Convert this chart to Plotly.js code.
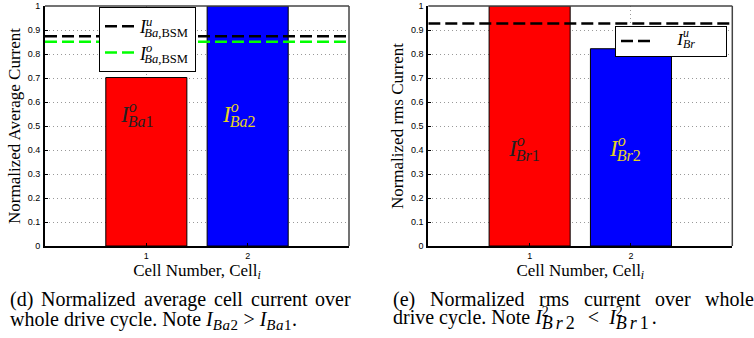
<!DOCTYPE html>
<html>
<head>
<meta charset="utf-8">
<script src="https://cdn.plot.ly/plotly-3.0.1.min.js"></script>
<style>html,body{margin:0;padding:0;background:#fff;}#chart{width:754px;height:338px;}</style>
</head>
<body>
<div id="chart"></div>
<script>
// ---- data ----
var cells = [1, 2];
var cellTickLabels = ['1', '2'];
var avgCurrent = [0.702, 1.0];          // normalized average cell current
var rmsCurrent = [1.0, 0.822];          // normalized rms current
var avgUpperBSM = 0.874;                // I^u_{Ba,BSM}
var avgLowerBSM = 0.851;                // I^o_{Ba,BSM}
var rmsUpper = 0.927;                   // I^u_{Br}
var lineX = [0, 3];
var barColors = ['#ff0000', '#0000ff'];
var yTicks = [0, 0.1, 0.2, 0.3, 0.4, 0.5, 0.6, 0.7, 0.8, 0.9, 1];
var yTickLabels = ['0', '0.1', '0.2', '0.3', '0.4', '0.5', '0.6', '0.7', '0.8', '0.9', '1'];
var captionLeft1 = ['(d)', 'Normalized', 'average', 'cell', 'current', 'over'];
var captionRight1 = ['(e)', 'Normalized', 'rms', 'current', 'over', 'whole'];

var serif = "'Liberation Serif'";
var sans = "'Liberation Sans'";
var NB = '\u00a0';
var EN = '\u2002';
function rep(s, n) { var o = ''; for (var i = 0; i < n; i++) o += s; return o; }

function stacked(base, sup, sub, pull) {
  return '<i>' + base + '</i><sup><span style="letter-spacing:-' + pull + 'px">' + sup + '</span></sup><sub>' + sub + '</sub>';
}
function bigsub(s, size, ls) { return '<span style="font-size:' + size + 'px;letter-spacing:' + ls + 'px">' + s + '</span>'; }

var traces = [
  {type: 'bar', x: cells, y: avgCurrent, width: 0.8, xaxis: 'x', yaxis: 'y',
   marker: {color: barColors, line: {color: '#000', width: 1}}, showlegend: false, hoverinfo: 'skip'},
  {type: 'scatter', mode: 'lines', x: lineX, y: [avgUpperBSM, avgUpperBSM], xaxis: 'x', yaxis: 'y',
   line: {color: '#000', width: 2.5, dash: '12px,5px'}, legend: 'legend',
   name: stacked('I', '<i>u</i>', '<i>Ba</i>,BSM', 8)},
  {type: 'scatter', mode: 'lines', x: lineX, y: [avgLowerBSM, avgLowerBSM], xaxis: 'x', yaxis: 'y',
   line: {color: '#00ff00', width: 2.5, dash: '12px,5px'}, legend: 'legend',
   name: stacked('I', '<i>o</i>', '<i>Ba</i>,BSM', 8)},
  {type: 'bar', x: cells, y: rmsCurrent, width: 0.8, xaxis: 'x2', yaxis: 'y2',
   marker: {color: barColors, line: {color: '#000', width: 1}}, showlegend: false, hoverinfo: 'skip'},
  {type: 'scatter', mode: 'lines', x: lineX, y: [rmsUpper, rmsUpper], xaxis: 'x2', yaxis: 'y2',
   line: {color: '#000', width: 2.5, dash: '12px,5px'}, legend: 'legend2',
   name: '<span style="font-size:17px">' + rep(NB, 5) + stacked('I', '<i>u</i>', '<i>Br</i>', 6) + rep(NB, 6) + '</span>'}
];

function xax(domain, anchor) {
  return {domain: domain, anchor: anchor, range: [0, 3], tickvals: cells, ticktext: cellTickLabels,
    showgrid: true, gridcolor: '#999', griddash: '1px,3px', gridwidth: 1, zeroline: false,
    showline: true, linecolor: '#000', linewidth: 2, ticks: 'inside', ticklen: 3, tickcolor: '#000',
    tickfont: {family: sans, size: 9, color: '#000'}, fixedrange: true,
    title: {text: 'Cell Number, Cell<sub><i>i</i></sub>', font: {family: serif, size: 17, color: '#000'}, standoff: 0}};
}
function yax(domain, anchor, title, standoff) {
  return {domain: domain, anchor: anchor, range: [0, 1], tickvals: yTicks, ticktext: yTickLabels,
    showgrid: true, gridcolor: '#999', griddash: '1px,3px', gridwidth: 1, zeroline: false,
    showline: true, linecolor: '#000', linewidth: 2, ticks: 'inside', ticklen: 3, tickcolor: '#000',
    tickfont: {family: sans, size: 9, color: '#000'}, fixedrange: true, ticklabelstandoff: 1,
    title: {text: title, font: {family: serif, size: 17, color: '#000'}, standoff: standoff}};
}

var yDom = [1 - 246 / 338, 1 - 6 / 338];
var annotations = [];
// bar labels
annotations.push({xref: 'x', yref: 'y', x: 1, y: 0.54, showarrow: false, xshift: -9,
  text: stacked('I', '<i>o</i>', '<i>Ba</i>1', 9), font: {family: serif, size: 23, color: '#222'}});
annotations.push({xref: 'x', yref: 'y', x: 2, y: 0.54, showarrow: false, xshift: -9,
  text: stacked('I', '<i>o</i>', '<i>Ba</i>2', 9), font: {family: serif, size: 23, color: '#e6d21e'}});
annotations.push({xref: 'x2', yref: 'y2', x: 1, y: 0.40, showarrow: false, xshift: -6,
  text: stacked('I', '<i>o</i>', '<i>Br</i>1', 9), font: {family: serif, size: 23, color: '#222'}});
annotations.push({xref: 'x2', yref: 'y2', x: 2, y: 0.40, showarrow: false, xshift: -6,
  text: stacked('I', '<i>o</i>', '<i>Br</i>2', 9), font: {family: serif, size: 23, color: '#e6d21e'}});

// captions (first lines justified between column edges)
var capSize = 20;
var capFont = {family: serif, size: capSize, color: '#000'};
var ctx = document.createElement('canvas').getContext('2d');
ctx.font = capSize + "px 'Liberation Serif'";
function justify(words, x0, x1) {
  var widths = words.map(function (w) { return ctx.measureText(w).width; });
  var total = widths.reduce(function (a, b) { return a + b; }, 0);
  var gap = (x1 - x0 - total) / (words.length - 1);
  var x = x0;
  words.forEach(function (w, i) {
    annotations.push({xref: 'paper', yref: 'paper', x: x / 754, y: 1 - 299 / 338, xanchor: 'left', yanchor: 'middle',
      showarrow: false, text: w, font: capFont, borderpad: 0});
    x += widths[i] + gap;
  });
}
justify(captionLeft1, 9, 350);
justify(captionRight1, 392, 753);

annotations.push({xref: 'paper', yref: 'paper', x: 9 / 754, y: 1 - 307 / 338, xanchor: 'left', yanchor: 'top',
  showarrow: false, font: capFont, borderpad: 0,
  text: 'whole drive cycle. Note' + NB + '<i>I</i><sub>' + bigsub('<i>Ba</i>2', 15, 0.5) + '</sub>' + NB + '&gt;' + NB +
        '<i>I</i><sub>' + bigsub('<i>Ba</i>1', 15, 0.5) + '</sub>.'});
annotations.push({xref: 'paper', yref: 'paper', x: 392 / 754, y: 1 - 305 / 338, xanchor: 'left', yanchor: 'top',
  showarrow: false, font: capFont, borderpad: 0,
  text: 'drive cycle. Note' + NB + stacked('I', '2', bigsub('<i>Br</i>2', 18, 3), 7) + EN + '&lt;' + EN +
        stacked('I', '2', bigsub('<i>Br</i>1', 18, 3), 7) + '.'});

var shapes = [];
['', '2'].forEach(function (s) {
  shapes.push({type: 'line', xref: 'x' + s + ' domain', yref: 'y' + s + ' domain', x0: 0, x1: 1, y0: 1, y1: 1, line: {color: '#444', width: 1.5}});
  shapes.push({type: 'line', xref: 'x' + s + ' domain', yref: 'y' + s + ' domain', x0: 1, x1: 1, y0: 0, y1: 1, line: {color: '#444', width: 1.5}});
});

var layout = {
  width: 754, height: 338, margin: {l: 0, r: 0, t: 0, b: 0},
  paper_bgcolor: '#fff', plot_bgcolor: '#fff', showlegend: true,
  font: {family: serif},
  xaxis: xax([45 / 754, 349 / 754], 'y'),
  yaxis: yax(yDom, 'x', 'Normalized Average Current', 3),
  xaxis2: xax([428.3 / 754, 732.3 / 754], 'y2'),
  yaxis2: yax(yDom, 'x2', 'Normalized rms Current', 3),
  legend: {x: 99 / 754, y: 1 - 7 / 338, xanchor: 'left', yanchor: 'top', bgcolor: '#fff', bordercolor: '#000', borderwidth: 1,
    font: {family: serif, size: 18, color: '#000'}, itemwidth: 30, tracegroupgap: 0},
  legend2: {x: 615 / 754, y: 1 - 25.5 / 338, xanchor: 'left', yanchor: 'top', bgcolor: '#fff', bordercolor: '#000', borderwidth: 1,
    font: {family: serif, size: 9, color: '#000'}, itemwidth: 30},
  annotations: annotations, shapes: shapes
};

Plotly.newPlot('chart', traces, layout, {staticPlot: true, displayModeBar: false});
</script>
</body>
</html>
